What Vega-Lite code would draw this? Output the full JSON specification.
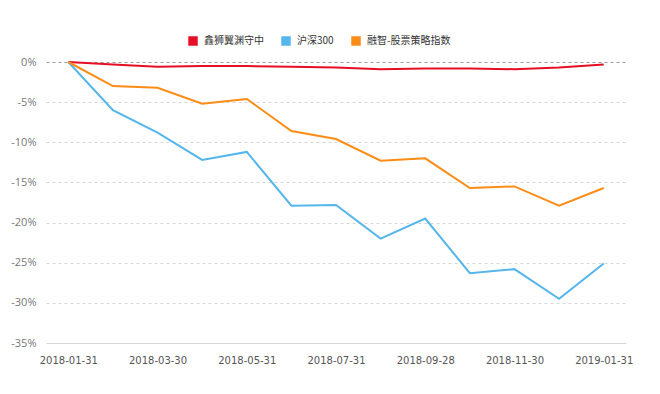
{
  "$schema": "https://vega.github.io/schema/vega-lite/v6.json",
  "width": 580,
  "height": 281,
  "autosize": {"type": "none"},
  "padding": {"left": 46, "top": 62, "right": 34, "bottom": 51},
  "background": "white",
  "config": {
    "font": "Noto Sans CJK SC",
    "view": {"stroke": null}
  },
  "data": {
    "values": [
      {"date": "2018-01-31", "series": "鑫狮翼渊守中", "v": 0},
      {"date": "2018-02-28", "series": "鑫狮翼渊守中", "v": -0.3},
      {"date": "2018-03-30", "series": "鑫狮翼渊守中", "v": -0.6},
      {"date": "2018-04-27", "series": "鑫狮翼渊守中", "v": -0.5},
      {"date": "2018-05-31", "series": "鑫狮翼渊守中", "v": -0.5},
      {"date": "2018-06-29", "series": "鑫狮翼渊守中", "v": -0.6},
      {"date": "2018-07-31", "series": "鑫狮翼渊守中", "v": -0.7},
      {"date": "2018-08-31", "series": "鑫狮翼渊守中", "v": -0.9},
      {"date": "2018-09-28", "series": "鑫狮翼渊守中", "v": -0.8},
      {"date": "2018-10-31", "series": "鑫狮翼渊守中", "v": -0.8},
      {"date": "2018-11-30", "series": "鑫狮翼渊守中", "v": -0.9},
      {"date": "2018-12-28", "series": "鑫狮翼渊守中", "v": -0.7},
      {"date": "2019-01-31", "series": "鑫狮翼渊守中", "v": -0.3},
      {"date": "2018-01-31", "series": "沪深300", "v": 0},
      {"date": "2018-02-28", "series": "沪深300", "v": -6.0},
      {"date": "2018-03-30", "series": "沪深300", "v": -8.8},
      {"date": "2018-04-27", "series": "沪深300", "v": -12.2},
      {"date": "2018-05-31", "series": "沪深300", "v": -11.2},
      {"date": "2018-06-29", "series": "沪深300", "v": -17.9},
      {"date": "2018-07-31", "series": "沪深300", "v": -17.8},
      {"date": "2018-08-31", "series": "沪深300", "v": -22.0},
      {"date": "2018-09-28", "series": "沪深300", "v": -19.5},
      {"date": "2018-10-31", "series": "沪深300", "v": -26.3},
      {"date": "2018-11-30", "series": "沪深300", "v": -25.8},
      {"date": "2018-12-28", "series": "沪深300", "v": -29.5},
      {"date": "2019-01-31", "series": "沪深300", "v": -25.1},
      {"date": "2018-01-31", "series": "融智-股票策略指数", "v": 0},
      {"date": "2018-02-28", "series": "融智-股票策略指数", "v": -3.0},
      {"date": "2018-03-30", "series": "融智-股票策略指数", "v": -3.2},
      {"date": "2018-04-27", "series": "融智-股票策略指数", "v": -5.2},
      {"date": "2018-05-31", "series": "融智-股票策略指数", "v": -4.6},
      {"date": "2018-06-29", "series": "融智-股票策略指数", "v": -8.6},
      {"date": "2018-07-31", "series": "融智-股票策略指数", "v": -9.6},
      {"date": "2018-08-31", "series": "融智-股票策略指数", "v": -12.3},
      {"date": "2018-09-28", "series": "融智-股票策略指数", "v": -12.0},
      {"date": "2018-10-31", "series": "融智-股票策略指数", "v": -15.7},
      {"date": "2018-11-30", "series": "融智-股票策略指数", "v": -15.5},
      {"date": "2018-12-28", "series": "融智-股票策略指数", "v": -17.9},
      {"date": "2019-01-31", "series": "融智-股票策略指数", "v": -15.7}
    ]
  },
  "mark": {"type": "line", "strokeWidth": 2},
  "encoding": {
    "x": {
      "field": "date",
      "type": "ordinal",
      "scale": {"type": "point", "padding": 0.5},
      "axis": {
        "title": null,
        "values": ["2018-01-31", "2018-03-30", "2018-05-31", "2018-07-31", "2018-09-28", "2018-11-30", "2019-01-31"],
        "labelAngle": 0,
        "labelColor": "#555",
        "labelFontSize": 10,
        "labelFont": "DejaVu Sans",
        "labelPadding": 12,
        "ticks": false,
        "domain": false,
        "grid": false
      }
    },
    "y": {
      "field": "v",
      "type": "quantitative",
      "scale": {"domain": [-35, 0], "nice": false},
      "axis": {
        "title": null,
        "values": [0, -5, -10, -15, -20, -25, -30, -35],
        "labelExpr": "datum.value + '%'",
        "labelColor": "#777",
        "labelFontSize": 11,
        "labelFont": "Open Sans",
        "labelPadding": 10,
        "ticks": false,
        "domain": false,
        "grid": true,
        "gridDash": {"condition": {"test": "datum.value == -35", "value": []}, "value": [3, 3]},
        "gridColor": {"condition": {"test": "datum.value == 0", "value": "#999"}, "value": "#d6d6d6"}
      }
    },
    "color": {
      "field": "series",
      "type": "nominal",
      "sort": ["鑫狮翼渊守中", "沪深300", "融智-股票策略指数"],
      "scale": {"domain": ["鑫狮翼渊守中", "沪深300", "融智-股票策略指数"], "range": ["#e60f24", "#55b6ec", "#fb8c16"]},
      "legend": {
        "title": null,
        "orient": "none",
        "legendX": 142,
        "legendY": -26,
        "direction": "horizontal",
        "symbolType": "square",
        "symbolSize": 90,
        "symbolStrokeWidth": 0,
        "symbolOpacity": 1,
        "labelFontSize": 10,
        "labelColor": "#333",
        "labelOffset": 6,
        "columnPadding": 17,
        "encode": {
          "symbols": {
            "update": {
              "fill": {"scale": "color", "field": "value"},
              "opacity": {"value": 1}
            }
          }
        }
      }
    }
  }
}
